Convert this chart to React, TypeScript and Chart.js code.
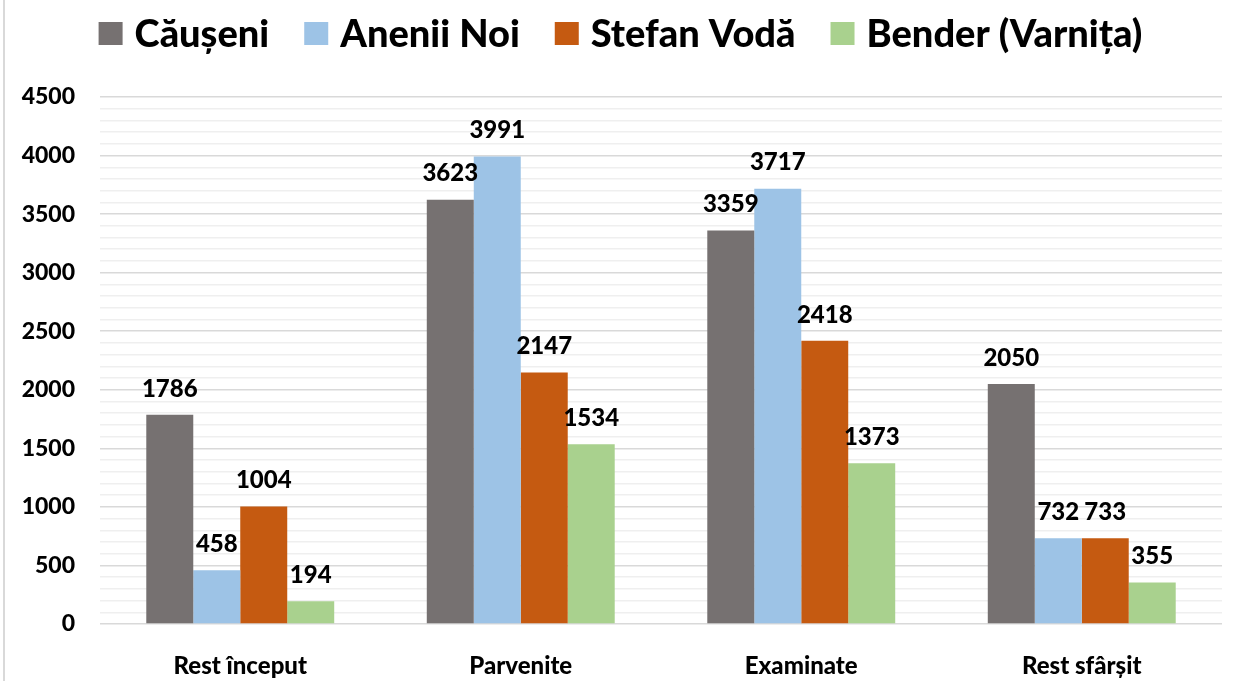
import React, { useEffect, useRef } from "react";
import { Chart, registerables } from "chart.js";

Chart.register(...registerables);

const categories = ["Rest început", "Parvenite", "Examinate", "Rest sfârșit"];
const seriesNames = ["Căușeni", "Anenii Noi", "Stefan Vodă", "Bender (Varnița)"];
const causeni = [1786, 3623, 3359, 2050];
const aneniiNoi = [458, 3991, 3717, 732];
const stefanVoda = [1004, 2147, 2418, 733];
const bender = [194, 1534, 1373, 355];
const colors = ["#767171", "#9DC3E6", "#C55A11", "#A9D18E"];
const yMax = 4500;
const yMajorStep = 500;
const yMinorStep = 100;

const FONT = "Lato, 'Noto Sans', sans-serif";
const WEIGHT = "900";

const decorPlugin = {
  id: "decor",
  afterDraw(chart: any) {
    const ctx = chart.ctx;
    ctx.save();
    // left frame line
    ctx.fillStyle = "#d9d9d9";
    ctx.fillRect(3, 0, 2, chart.height);

    // legend
    const fontSize = 38;
    ctx.font = `${WEIGHT} ${fontSize}px ${FONT}`;
    const boxW = 24;
    const boxH = 23;
    const boxGap = 12;
    const itemGap = 35;
    const widths = seriesNames.map((n) => ctx.measureText(n).width);
    let total = 0;
    widths.forEach((w, i) => {
      total += boxW + boxGap + w + (i < widths.length - 1 ? itemGap : 0);
    });
    let x = (chart.width - total) / 2;
    const cy = 33.5;
    ctx.textBaseline = "middle";
    ctx.textAlign = "left";
    seriesNames.forEach((n, i) => {
      ctx.fillStyle = colors[i];
      ctx.fillRect(x, cy - boxH / 2, boxW, boxH);
      x += boxW + boxGap;
      ctx.fillStyle = "#000";
      ctx.fillText(n, x, cy + 1);
      x += widths[i] + itemGap;
    });

    // data labels
    ctx.font = `${WEIGHT} 24px ${FONT}`;
    ctx.textAlign = "center";
    ctx.textBaseline = "middle";
    ctx.fillStyle = "#000";
    chart.data.datasets.forEach((ds: any, di: number) => {
      const meta = chart.getDatasetMeta(di);
      meta.data.forEach((bar: any, i: number) => {
        ctx.fillText(String(ds.data[i]), bar.x, bar.y - 26);
      });
    });
    ctx.restore();
  },
};

export default function App() {
  const ref = useRef<HTMLCanvasElement>(null);
  useEffect(() => {
    document.body.style.margin = "0";
    const chart = new Chart(ref.current!, {
      type: "bar",
      data: {
        labels: categories,
        datasets: [causeni, aneniiNoi, stefanVoda, bender].map((d, i) => ({
          label: seriesNames[i],
          data: d,
          backgroundColor: colors[i],
          borderWidth: 0,
          categoryPercentage: 0.67,
          barPercentage: 1,
        })),
      },
      options: {
        responsive: false,
        animation: false,
        layout: { padding: { top: 97, right: 19, left: 0, bottom: 0 } },
        plugins: {
          legend: { display: false },
          tooltip: { enabled: false },
        },
        scales: {
          x: {
            grid: { display: false },
            border: { display: false },
            ticks: {
              color: "#000",
              font: { family: FONT, size: 24, weight: WEIGHT },
              padding: 20,
            },
            afterFit(scale: any) {
              scale.height = 57;
            },
          },
          y: {
            min: 0,
            max: yMax,
            border: { display: false },
            grid: {
              drawTicks: false,
              color: (c: any) =>
                c.tick && c.tick.value % yMajorStep === 0 ? "#d9d9d9" : "#efefef",
              lineWidth: 1.5,
            },
            ticks: {
              stepSize: yMinorStep,
              maxTicksLimit: 1000,
              autoSkip: false,
              padding: 25,
              color: "#000",
              font: { family: FONT, size: 23, weight: WEIGHT },
              callback: (v: any) => (Number(v) % yMajorStep === 0 ? String(v) : ""),
            },
            afterFit(scale: any) {
              scale.width = 100;
            },
          },
        },
      },
      plugins: [decorPlugin],
    });
    return () => chart.destroy();
  }, []);
  return (
    <div style={{ width: 1241, height: 681, background: "#fff" }}>
      <canvas ref={ref} width={1241} height={681} />
    </div>
  );
}
